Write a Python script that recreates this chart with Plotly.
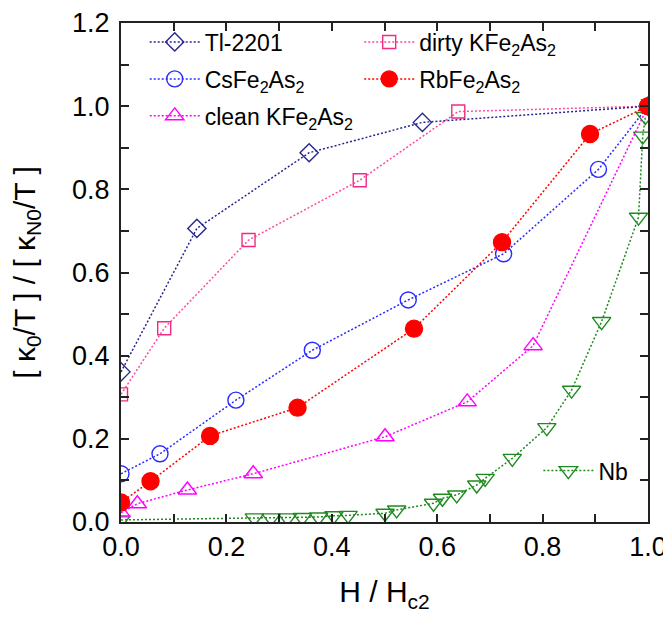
import plotly.graph_objects as go

# ---- data ----
tl_x = [0.0, 0.144, 0.357, 0.572, 1.0]
tl_y = [0.361, 0.706, 0.888, 0.961, 1.0]

cs_x = [0.0, 0.074, 0.218, 0.363, 0.545, 0.726, 0.906, 1.0]
cs_y = [0.116, 0.164, 0.293, 0.413, 0.534, 0.645, 0.848, 1.0]

clean_x = [0.0, 0.031, 0.126, 0.251, 0.501, 0.657, 0.782, 1.0]
clean_y = [0.022, 0.044, 0.077, 0.116, 0.205, 0.289, 0.424, 1.0]

dirty_x = [0.0, 0.082, 0.242, 0.453, 0.640, 1.0]
dirty_y = [0.307, 0.466, 0.678, 0.822, 0.987, 1.0]

rb_x = [0.0, 0.056, 0.169, 0.335, 0.556, 0.723, 0.890, 1.0]
rb_y = [0.047, 0.098, 0.207, 0.275, 0.465, 0.673, 0.933, 1.0]

nb_x = [0.0, 0.253, 0.285, 0.316, 0.344, 0.375, 0.404, 0.431, 0.501, 0.523,
        0.593, 0.610, 0.637, 0.675, 0.691, 0.7425, 0.808, 0.855, 0.912, 0.982,
        0.990, 0.995]
nb_y = [0.005, 0.010, 0.010, 0.010, 0.011, 0.012, 0.015, 0.016, 0.021, 0.029,
        0.045, 0.057, 0.065, 0.089, 0.105, 0.153, 0.227, 0.317, 0.482, 0.733,
        0.928, 0.975]

names = {
    "tl": "Tl-2201",
    "cs": "CsFe<sub>2</sub>As<sub>2</sub>",
    "clean": "clean KFe<sub>2</sub>As<sub>2</sub>",
    "dirty": "dirty KFe<sub>2</sub>As<sub>2</sub>",
    "rb": "RbFe<sub>2</sub>As<sub>2</sub>",
    "nb": "Nb",
}

x_ticks = [0.0, 0.2, 0.4, 0.6, 0.8, 1.0]
y_ticks = [0.0, 0.2, 0.4, 0.6, 0.8, 1.0, 1.2]

FONT = "Arial, Liberation Sans, sans-serif"
DASH = "2px,2px"

fig = go.Figure()

def add(x, y, key, color, symbol, size, filled, legend, lcolor=None):
    fig.add_trace(go.Scatter(
        x=x, y=y, name=names[key], mode="lines+markers", legend=legend,
        line=dict(color=lcolor or color, width=1.5, dash=DASH),
        marker=dict(symbol=symbol, size=size,
                    color=color if filled else "rgba(255,255,255,0)",
                    line=dict(color=color, width=1.4)),
        cliponaxis=True,
    ))

add(nb_x, nb_y, "nb", "#1f8a1f", "triangle-down", 16, False, "legend6")
add(clean_x, clean_y, "clean", "#ff00ff", "triangle-up", 16, False, "legend3")
add(cs_x, cs_y, "cs", "#2a2aff", "circle", 16, False, "legend2")
add(dirty_x, dirty_y, "dirty", "#f02c82", "square", 13, False, "legend4", lcolor="#ff4aa0")
add(tl_x, tl_y, "tl", "#26268f", "diamond", 14, False, "legend")
add(rb_x, rb_y, "rb", "#ff0000", "circle", 17, True, "legend5")

axis_common = dict(
    showline=True, linecolor="#222", linewidth=2, mirror="allticks",
    ticks="inside", ticklen=8, tickwidth=1.5, tickcolor="#222",
    showgrid=False, zeroline=False, automargin=False,
    tickfont=dict(family=FONT, size=27, color="black"),
    minor=dict(ticks="inside", ticklen=8, tickwidth=1.5, tickcolor="#222", dtick=0.1),
)

fig.update_xaxes(
    range=[0, 1.0], tickvals=x_ticks, ticktext=[f"{v:.1f}" for v in x_ticks],
    title=dict(text="H / H<sub>c2</sub>", font=dict(family=FONT, size=30, color="black"), standoff=20),
    **axis_common)
fig.update_yaxes(
    range=[0, 1.2], tickvals=y_ticks, ticktext=[f"{v:.1f}" for v in y_ticks],
    ticklabelstandoff=4,
    title=dict(text="[ κ<sub>0</sub>/T ] / [ κ<sub>N0</sub>/T ]", font=dict(family=FONT, size=30, color="black"), standoff=28),
    **axis_common)

leg_common = dict(bgcolor="rgba(0,0,0,0)", borderwidth=0,
                  font=dict(family=FONT, size=23, color="black"),
                  itemwidth=50, xanchor="left", yanchor="top")

# page body has an 8px margin, so the figure is sized to fit the 671x618 window
fig.update_layout(
    width=663, height=610,
    margin=dict(l=113, r=23, t=15, b=96),
    paper_bgcolor="white", plot_bgcolor="white",
    showlegend=True,
    legend=dict(x=0.045, y=1.005, **leg_common),
    legend2=dict(x=0.045, y=0.931, **leg_common),
    legend3=dict(x=0.045, y=0.857, **leg_common),
    legend4=dict(x=0.452, y=1.005, **leg_common),
    legend5=dict(x=0.452, y=0.931, **leg_common),
    legend6=dict(x=0.792, y=0.146, **leg_common),
)

fig.write_html("out.html")
